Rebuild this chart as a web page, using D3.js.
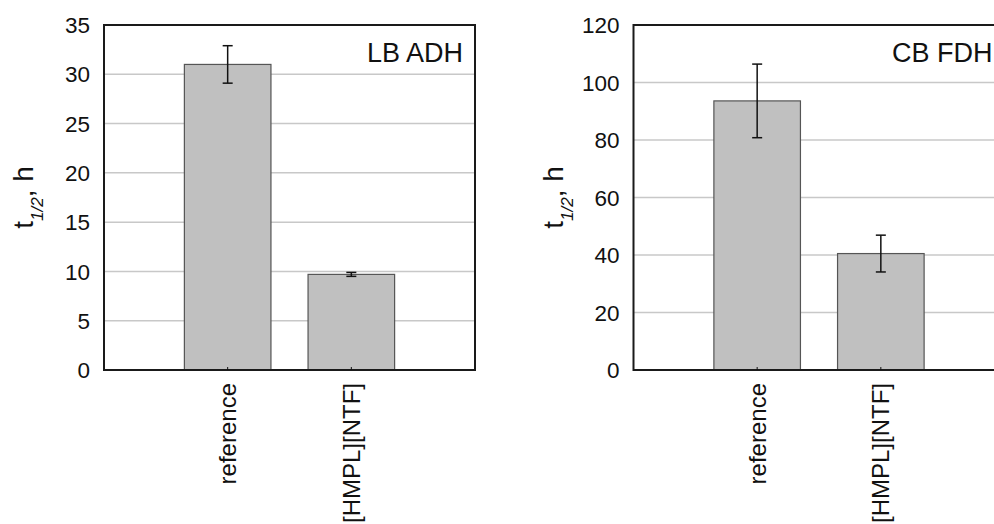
<!DOCTYPE html>
<html>
<head>
<meta charset="utf-8">
<script src="https://cdn.jsdelivr.net/npm/d3@7"></script>
<style>
  body { margin: 0; background: #fff; }
  svg text { font-family: "Liberation Sans", Arial, sans-serif; fill: #111; }
</style>
</head>
<body>
<div id="chart"></div>
<script>
// data
var categories = ["reference", "[HMPL][NTF]"];
var adhValues = [31.0, 9.7];
var adhErrors = [1.9, 0.2];
var adhTicks = [0, 5, 10, 15, 20, 25, 30, 35];
var fdhValues = [93.6, 40.5];
var fdhErrors = [12.8, 6.4];
var fdhTicks = [0, 20, 40, 60, 80, 100, 120];

var W = 994, H = 524;
var svg = d3.select("#chart").append("svg")
    .attr("width", W)
    .attr("height", H);

// one panel: plot box 371 x 345
function drawPanel(left, values, errors, ticks, title) {
  var width = 371, height = 345, top = 25;
  var g = svg.append("g").attr("transform", "translate(" + left + "," + top + ")");

  var x = d3.scaleLinear().domain([0, 3]).range([0, width]);
  var y = d3.scaleLinear().domain([0, d3.max(ticks)]).range([height, 0]);

  // grid lines
  g.append("g").selectAll("line")
    .data(ticks.slice(1, -1))
    .enter().append("line")
      .attr("x1", 0).attr("x2", width)
      .attr("y1", function(d) { return y(d); })
      .attr("y2", function(d) { return y(d); })
      .style("stroke", "#c8c8c8")
      .style("stroke-width", 1.5);

  // bars
  g.append("g").selectAll("rect")
    .data(values)
    .enter().append("rect")
      .attr("x", function(d, i) { return x(i + 1 - 0.35); })
      .attr("width", x(0.7) - x(0))
      .attr("y", function(d) { return y(d); })
      .attr("height", function(d) { return height - y(d); })
      .style("fill", "#c0c0c0")
      .style("stroke", "#555")
      .style("stroke-width", 1.2);

  // error bars
  var eb = g.append("g").selectAll("g")
    .data(values)
    .enter().append("g");
  eb.append("line")
    .attr("x1", function(d, i) { return x(i + 1); })
    .attr("x2", function(d, i) { return x(i + 1); })
    .attr("y1", function(d, i) { return y(d + errors[i]); })
    .attr("y2", function(d, i) { return y(d - errors[i]); })
    .style("stroke", "#111").style("stroke-width", 1.5);
  [1, -1].forEach(function(s) {
    eb.append("line")
      .attr("x1", function(d, i) { return x(i + 1) - 5; })
      .attr("x2", function(d, i) { return x(i + 1) + 5; })
      .attr("y1", function(d, i) { return y(d + s * errors[i]); })
      .attr("y2", function(d, i) { return y(d + s * errors[i]); })
      .style("stroke", "#111").style("stroke-width", 1.5);
  });

  // frame
  g.append("rect")
    .attr("x", 0).attr("y", 0)
    .attr("width", width).attr("height", height)
    .style("fill", "none")
    .style("stroke", "#1a1a1a")
    .style("stroke-width", 2);

  // y tick labels
  g.append("g").selectAll("text")
    .data(ticks)
    .enter().append("text")
      .attr("x", -14)
      .attr("y", function(d) { return y(d); })
      .attr("dy", "0.36em")
      .attr("text-anchor", "end")
      .style("font-size", "22.5px")
      .text(function(d) { return d; });

  // x ticks and rotated category labels
  g.append("g").selectAll("line")
    .data(categories)
    .enter().append("line")
      .attr("x1", function(d, i) { return x(i + 1); })
      .attr("x2", function(d, i) { return x(i + 1); })
      .attr("y1", height).attr("y2", height - 3)
      .style("stroke", "#111").style("stroke-width", 1);
  g.append("g").selectAll("text")
    .data(categories)
    .enter().append("text")
      .attr("transform", function(d, i) {
        return "translate(" + x(i + 1) + "," + (height + 13) + ") rotate(-90)";
      })
      .attr("dy", "0.36em")
      .attr("text-anchor", "end")
      .style("font-size", "24px")
      .text(function(d) { return d; });

  // y axis title: t1/2, h
  var t = g.append("text")
    .attr("transform", "translate(" + (-81) + "," + (height / 2) + ") rotate(-90)")
    .attr("dy", "0.36em")
    .attr("text-anchor", "middle")
    .style("font-size", "28px");
  t.append("tspan").text("t");
  t.append("tspan").attr("baseline-shift", "sub")
    .style("font-size", "17px").style("font-style", "italic").text("1/2");
  t.append("tspan").text(", h");

  // panel label
  g.append("text")
    .attr("x", width - 12)
    .attr("y", 37)
    .attr("text-anchor", "end")
    .style("font-size", "27px")
    .text(title);
}

drawPanel(104, adhValues, adhErrors, adhTicks, "LB ADH");
drawPanel(633.5, fdhValues, fdhErrors, fdhTicks, "CB FDH");
</script>
</body>
</html>
